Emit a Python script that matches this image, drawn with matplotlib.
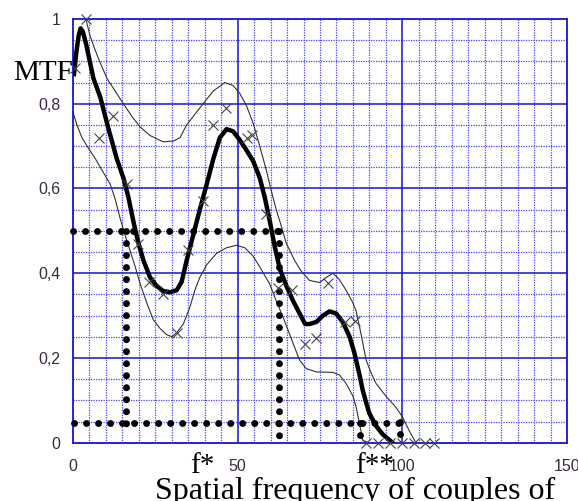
import numpy as np
import matplotlib
matplotlib.use("Agg")
import matplotlib.pyplot as plt

# mean MTF curve (thick)
mean_x = [0.3, 1, 1.7, 2.3, 3, 4, 6.2, 8.3, 10.8, 13.3, 15.3, 16.8, 18.4, 19.9, 21.4, 23.4, 25.4,
          27.4, 29.5, 31.5, 33, 34.5, 36.5, 38.5, 40.6, 42.6, 44.6, 46.6, 48.6, 50.6, 52.7, 54.7,
          56.7, 58.2, 59.7, 61.2, 62.8, 64.8, 66.8, 68.8, 70.5, 71.8, 73.9, 75.9, 77.9, 79.9, 81.9,
          84, 85.5, 87, 88, 89, 90, 92, 94, 96, 97]
mean_y = [0.87, 0.92, 0.96, 0.978, 0.97, 0.94, 0.86, 0.815, 0.74, 0.67, 0.625, 0.58, 0.52, 0.47,
          0.43, 0.39, 0.37, 0.358, 0.355, 0.36, 0.38, 0.43, 0.49, 0.55, 0.61, 0.67, 0.72, 0.74,
          0.735, 0.715, 0.69, 0.665, 0.625, 0.58, 0.525, 0.465, 0.41, 0.37, 0.335, 0.305, 0.28,
          0.28, 0.285, 0.30, 0.31, 0.305, 0.285, 0.25, 0.21, 0.16, 0.123, 0.095, 0.069, 0.04,
          0.02, 0.007, 0.0]

# upper envelope
up_x = [3.9, 5.2, 6.8, 8.3, 10.3, 12.8, 15.3, 17.9, 20.4, 23.4, 27.4, 30.5, 32.5, 34.5, 37, 39.5,
        42.6, 46.1, 48.6, 50.6, 52.7, 54.7, 56.7, 58.7, 60.2, 61.7, 63.3, 64.8, 65.8, 67.3, 69.3,
        71.8, 74.9, 76.9, 78.9, 80.9, 82.9, 85, 86, 87.5, 89, 90.5, 92, 95, 98.1, 100.1, 102.1, 104.1]
up_y = [1.0, 0.96, 0.925, 0.896, 0.86, 0.83, 0.80, 0.77, 0.745, 0.725, 0.71, 0.712, 0.72, 0.75,
        0.775, 0.80, 0.83, 0.85, 0.843, 0.825, 0.795, 0.754, 0.70, 0.643, 0.595, 0.55, 0.51, 0.47,
        0.454, 0.43, 0.405, 0.383, 0.378, 0.39, 0.40, 0.385, 0.36, 0.33, 0.31, 0.255, 0.195, 0.165,
        0.14, 0.11, 0.083, 0.06, 0.028, 0.0]

# lower envelope
lo_x = [0, 1.2, 2.7, 4.7, 6.8, 8.3, 9.8, 11.3, 12.8, 14.3, 15.8, 17.3, 18.9, 20.4, 22.4, 24.4, 26.4,
        28.4, 30.1, 31.5, 33.5, 35.5, 37, 38.5, 40.6, 43.6, 46.6, 49.6, 52.2, 54.7, 56.7, 59.7, 61.7,
        63.8, 66.3, 68.8, 70.8, 73.9, 78.9, 80.9, 82.9, 85, 86, 87, 88, 90]
lo_y = [0.78, 0.75, 0.72, 0.695, 0.67, 0.65, 0.63, 0.61, 0.575, 0.53, 0.49, 0.454, 0.415, 0.375,
        0.33, 0.29, 0.27, 0.255, 0.25, 0.26, 0.28, 0.32, 0.36, 0.39, 0.42, 0.447, 0.46, 0.466, 0.46,
        0.44, 0.415, 0.375, 0.335, 0.296, 0.245, 0.195, 0.175, 0.167, 0.166, 0.16, 0.14, 0.11,
        0.083, 0.045, 0.005, 0.0]

# measured points (crosses)
pts_x = [0.6, 3.9, 8, 12.1, 16.3, 19.8, 23.2, 27.4, 31.5, 35, 39.5, 42.6, 46.6, 52.7, 54.4, 58.7,
         62.3, 66.5, 70.5, 73.9, 77.5, 82.6, 85.7, 89, 92.7, 96.3, 99.8, 103.4, 106.8, 109.5]
pts_y = [0.885, 1.0, 0.72, 0.77, 0.61, 0.47, 0.38, 0.35, 0.26, 0.454, 0.57, 0.75, 0.79, 0.72, 0.726,
         0.54, 0.364, 0.36, 0.234, 0.246, 0.378, 0.284, 0.288, 0, 0, 0, 0, 0, 0, 0]

# dotted guide lines (x0, x1, y0, y1)
guides = [(0, 62.5, 0.5, 0.5), (16.1, 16.1, 0.5, 0.017), (62.5, 62.5, 0.5, 0.01),
          (0.3, 99.4, 0.047, 0.047), (87.2, 87.2, 0.047, -0.005), (99.4, 99.4, 0.05, -0.003)]

xticks = [0, 50, 100, 150]
yticks = [0, 0.2, 0.4, 0.6, 0.8, 1.0]
ylabels = ['0', '0,2', '0,4', '0,6', '0,8', '1']

fig = plt.figure(figsize=(5.78, 5.01), dpi=100)
ax = fig.add_axes([73/578, 1-442.7/501, 494/578, 423.7/501])
ax.set_xlim(0, 150)
ax.set_ylim(0, 1)

blue = '#1414d2'
for v in np.arange(5, 150, 5):
    if v % 50:
        ax.axvline(v, color='#4646ff', lw=0.9, ls=(0, (1, 1)), zorder=0)
for v in np.arange(0.05, 1, 0.05):
    if round(v / 0.2, 3) % 1:
        ax.axhline(v, color='#4646ff', lw=0.9, ls=(0, (1, 1)), zorder=0)
for v in [50, 100]:
    ax.axvline(v, color=blue, lw=1.1, zorder=0)
for v in [0.2, 0.4, 0.6, 0.8]:
    ax.axhline(v, color=blue, lw=1.1, zorder=0)
for s in ax.spines.values():
    s.set_color(blue)
    s.set_linewidth(1.3)

for g in guides:
    ax.plot(g[:2], g[2:], color='black', lw=5, ls=(0, (0.01, 1.72)),
            dash_capstyle='round', clip_on=False, zorder=3)

ax.plot(up_x, up_y, color='#333333', lw=0.8, zorder=2)
ax.plot(lo_x, lo_y, color='#333333', lw=0.8, zorder=2)
ax.plot(mean_x, mean_y, color='black', lw=3.2, zorder=4)
ax.plot(pts_x, pts_y, ls='none', marker='x', ms=7.5, mew=0.8, color='#444444',
        clip_on=False, zorder=5)

ax.set_xticks(xticks)
ax.set_xticklabels([str(t) for t in xticks])
ax.set_yticks(yticks)
ax.set_yticklabels(ylabels)
ax.tick_params(length=0, labelsize=11.5, labelcolor='#3b2a40')
ax.tick_params(axis='x', pad=12)
ax.tick_params(axis='y', pad=9)
for lab in ax.get_xticklabels() + ax.get_yticklabels():
    lab.set_family('Liberation Sans')

serif = 'Liberation Serif'
fig.text(13/578, 1-80/501, 'MTF', family=serif, fontsize=21, va='baseline')
fig.text(190/578, 1-473/501, 'f*', family=serif, fontsize=21, va='baseline')
fig.text(355/578, 1-473/501, 'f**', family=serif, fontsize=21, va='baseline')
fig.text(155/578, 1-499/501, 'Spatial frequency of couples of', family=serif,
         fontsize=23, va='baseline')

fig.savefig('out.png', dpi=100)
